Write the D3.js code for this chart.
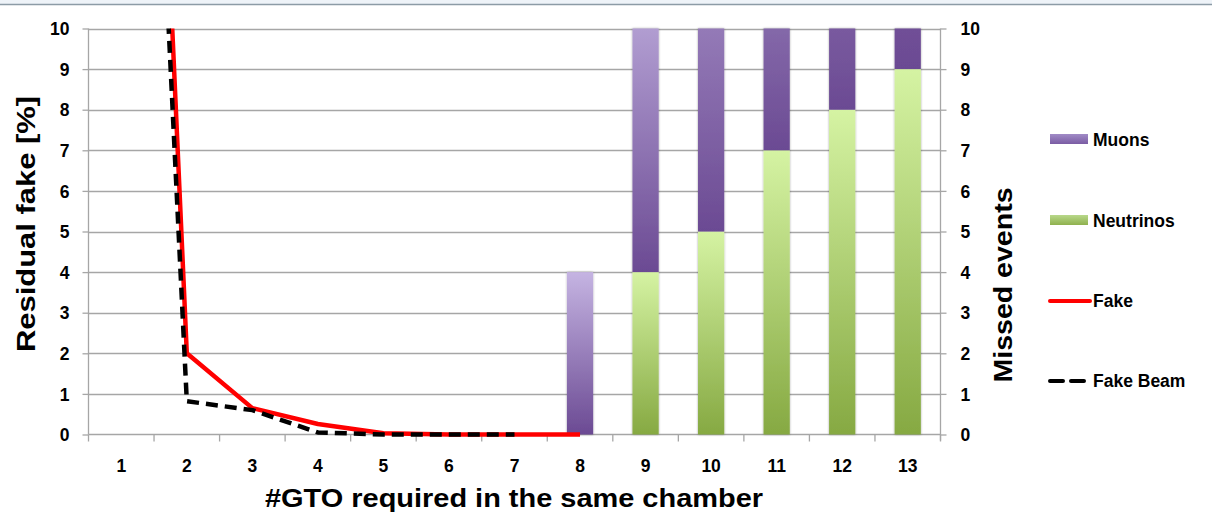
<!DOCTYPE html>
<html>
<head>
<meta charset="utf-8">
<script src="https://cdn.jsdelivr.net/npm/d3@7"></script>
<style>
  html, body { margin: 0; padding: 0; background: #fff; }
  svg { display: block; }
  text { font-family: "Liberation Sans", Arial, sans-serif; font-weight: bold; fill: #000; }
</style>
</head>
<body>
<svg id="chart" width="1212" height="517"></svg>
<script>
// Number of GTO hits required in the same chamber
const categories = ["1","2","3","4","5","6","7","8","9","10","11","12","13"];

// Residual fake rate [%] (left axis); first point lies far above the axis range
const fakeCats = ["1","2","3","4","5","6","7","8"];
const fakeValues = [38, 2.0, 0.65, 0.26, 0.03, 0, 0, 0];
const fakeBeamCats = ["1","2","3","4","5","6","7"];
const fakeBeamValues = [34, 0.82, 0.6, 0.05, 0, 0, 0];

// Missed events (right axis), stacked: neutrinos at the bottom, muons on top
const neutrinoValues = [0,0,0,0,0,0,0,0,4,5,7,8,9];
const muonValues     = [0,0,0,0,0,0,0,4,6,5,3,2,1];

const leftTicks  = [0,1,2,3,4,5,6,7,8,9,10];
const rightTicks = [0,1,2,3,4,5,6,7,8,9,10];

// Top-of-bar lightness of the muon gradient, per category
const muonTopMix = [0,0,0,0,0,0,0,1.0,0.78,0.45,0.28,0.15,0.05];

const svg = d3.select("#chart");
const W = 1212, H = 517;
const plot = { left: 88.5, right: 940.5, top: 28.5, bottom: 434.5 };

// Slide header strip
svg.append("rect").attr("x", 0).attr("y", 0).attr("width", W).attr("height", 4).attr("fill", "#eef3f8");
svg.append("line").attr("x1", 0).attr("x2", W).attr("y1", 4.5).attr("y2", 4.5)
  .attr("stroke", "#8c9ba6").attr("stroke-width", 1.5);

const x = d3.scaleBand().domain(categories).range([plot.left, plot.right])
  .paddingInner(0.6).paddingOuter(0.3);
const xStep = x.step();
const xc = c => x(c) + x.bandwidth() / 2;
const yL = d3.scaleLinear().domain([0, 10]).range([plot.bottom, plot.top]);
const yR = d3.scaleLinear().domain([0, 10]).range([plot.bottom, plot.top]);

const defs = svg.append("defs");
defs.append("clipPath").attr("id", "plotClip").append("rect")
  .attr("x", plot.left - 2).attr("y", plot.top).attr("width", plot.right - plot.left + 4)
  .attr("height", plot.bottom - plot.top + 6);
const shadow = defs.append("filter").attr("id", "barShadow")
  .attr("x", "-20%").attr("y", "-5%").attr("width", "140%").attr("height", "110%");
shadow.append("feDropShadow").attr("dx", 0).attr("dy", 0).attr("stdDeviation", 1)
  .attr("flood-color", "#000").attr("flood-opacity", 0.35);

// Horizontal gridlines
svg.append("g").selectAll("line").data(leftTicks.filter(t => t > 0)).join("line")
  .attr("x1", plot.left).attr("x2", plot.right)
  .attr("y1", d => Math.round(yL(d)) + 0.5).attr("y2", d => Math.round(yL(d)) + 0.5)
  .attr("stroke", "#a6a6a6").attr("stroke-width", 1.3);

// Left axis
const leftAxis = d3.axisLeft(yL).tickValues(leftTicks).tickSize(6).tickPadding(13).tickFormat(d3.format("d"));
const gL = svg.append("g").attr("transform", `translate(${plot.left},0)`).call(leftAxis);
gL.select(".domain").attr("stroke", "#a6a6a6").attr("stroke-width", 1.3).attr("d", `M0,${plot.top}V${plot.bottom}`);
gL.selectAll(".tick line").attr("stroke", "#a6a6a6").attr("stroke-width", 1.3);
gL.selectAll(".tick text").attr("font-size", 17.5).attr("font-family", null).attr("fill", "#000").attr("dy", "0.35em");

// Right axis
const rightAxis = d3.axisRight(yR).tickValues(rightTicks).tickSize(6).tickPadding(14).tickFormat(d3.format("d"));
const gR = svg.append("g").attr("transform", `translate(${plot.right},0)`).call(rightAxis);
gR.select(".domain").attr("stroke", "#a6a6a6").attr("stroke-width", 1.3).attr("d", `M0,${plot.top}V${plot.bottom + 6}`);
gR.selectAll(".tick line").attr("stroke", "#a6a6a6").attr("stroke-width", 1.3);
gR.selectAll(".tick text").attr("font-size", 17.5).attr("font-family", null).attr("fill", "#000").attr("dy", "0.35em");

// Category axis: ticks sit on the category boundaries
const boundaries = d3.range(categories.length + 1).map(i => plot.left + i * xStep);
const gX = svg.append("g");
gX.append("line").attr("x1", plot.left).attr("x2", plot.right).attr("y1", plot.bottom).attr("y2", plot.bottom)
  .attr("stroke", "#a6a6a6").attr("stroke-width", 1.5);
gX.selectAll("line.tick").data(boundaries).join("line").attr("class", "tick")
  .attr("x1", d => d).attr("x2", d => d).attr("y1", plot.bottom).attr("y2", plot.bottom + 7)
  .attr("stroke", "#a6a6a6").attr("stroke-width", 1.3);
gX.selectAll("text").data(categories).join("text")
  .attr("x", d => xc(d)).attr("y", 472).attr("text-anchor", "middle").attr("font-size", 17.5)
  .text(d => d);

// Stacked bars
const muonLight = "#c5b4e2", muonDark = "#6b4a93";
const nuLight = "#d5f3a3", nuDark = "#86a942";
const stack = categories.map((c, i) => ({ c, i, nu: neutrinoValues[i], mu: muonValues[i] }));

const nuGrad = defs.append("linearGradient").attr("id", "nuGrad").attr("x1", 0).attr("y1", 0).attr("x2", 0).attr("y2", 1);
nuGrad.append("stop").attr("offset", "0%").attr("stop-color", nuLight);
nuGrad.append("stop").attr("offset", "100%").attr("stop-color", nuDark);

stack.forEach(d => {
  const g = defs.append("linearGradient").attr("id", "muGrad" + d.i).attr("x1", 0).attr("y1", 0).attr("x2", 0).attr("y2", 1);
  g.append("stop").attr("offset", "0%").attr("stop-color", d3.interpolateRgb(muonDark, muonLight)(muonTopMix[d.i]));
  g.append("stop").attr("offset", "100%").attr("stop-color", muonDark);
});

const bars = svg.append("g").attr("filter", "url(#barShadow)");
bars.selectAll("rect.nu").data(stack.filter(d => d.nu > 0)).join("rect").attr("class", "nu")
  .attr("x", d => x(d.c)).attr("width", x.bandwidth())
  .attr("y", d => yR(d.nu)).attr("height", d => yR(0) - yR(d.nu))
  .attr("fill", "url(#nuGrad)");
bars.selectAll("rect.mu").data(stack.filter(d => d.mu > 0)).join("rect").attr("class", "mu")
  .attr("x", d => x(d.c)).attr("width", x.bandwidth())
  .attr("y", d => yR(d.nu + d.mu)).attr("height", d => yR(d.nu) - yR(d.nu + d.mu))
  .attr("fill", d => `url(#muGrad${d.i})`);

// Fake-rate lines
const lineGen = d3.line().x(d => xc(d[0])).y(d => yL(d[1]));
const lines = svg.append("g").attr("clip-path", "url(#plotClip)");
lines.append("path").datum(fakeCats.map((c, i) => [c, fakeValues[i]]))
  .attr("d", lineGen).attr("fill", "none").attr("stroke", "#ff0000").attr("stroke-width", 4.5)
  .attr("stroke-linejoin", "round");
lines.append("path").datum(fakeBeamCats.map((c, i) => [c, fakeBeamValues[i]]))
  .attr("d", lineGen).attr("fill", "none").attr("stroke", "#000").attr("stroke-width", 4.5)
  .attr("stroke-dasharray", "12,7").attr("stroke-linejoin", "round");

// Axis titles
svg.append("text").attr("x", 514).attr("y", 507).attr("text-anchor", "middle")
  .attr("font-size", 26).attr("textLength", 498).attr("lengthAdjust", "spacingAndGlyphs")
  .text("#GTO required in the same chamber");
svg.append("text").attr("transform", "translate(35,224) rotate(-90)").attr("text-anchor", "middle")
  .attr("font-size", 26).attr("textLength", 256).attr("lengthAdjust", "spacingAndGlyphs")
  .text("Residual fake [%]");
svg.append("text").attr("transform", "translate(1012,285) rotate(-90)").attr("text-anchor", "middle")
  .attr("font-size", 26).attr("textLength", 195).attr("lengthAdjust", "spacingAndGlyphs")
  .text("Missed events");

// Legend
const legendItems = [
  { label: "Muons", type: "bar", fill: "url(#legMu)", y: 140 },
  { label: "Neutrinos", type: "bar", fill: "url(#legNu)", y: 221 },
  { label: "Fake", type: "line", stroke: "#ff0000", dash: null, y: 301 },
  { label: "Fake Beam", type: "line", stroke: "#000", dash: "13,8", y: 381 }
];
const legMu = defs.append("linearGradient").attr("id", "legMu").attr("x1", 0).attr("y1", 0).attr("x2", 0).attr("y2", 1);
legMu.append("stop").attr("offset", "0%").attr("stop-color", "#a18bc6");
legMu.append("stop").attr("offset", "100%").attr("stop-color", "#7a5ca3");
const legNu = defs.append("linearGradient").attr("id", "legNu").attr("x1", 0).attr("y1", 0).attr("x2", 0).attr("y2", 1);
legNu.append("stop").attr("offset", "0%").attr("stop-color", "#b8d88a");
legNu.append("stop").attr("offset", "100%").attr("stop-color", "#8fb14e");

const leg = svg.append("g");
legendItems.forEach(it => {
  if (it.type === "bar") {
    leg.append("rect").attr("x", 1050).attr("y", it.y - 6).attr("width", 38).attr("height", 10).attr("fill", it.fill);
  } else {
    leg.append("line").attr("x1", 1050).attr("x2", 1090).attr("y1", it.y).attr("y2", it.y)
      .attr("stroke", it.stroke).attr("stroke-width", 4).attr("stroke-linecap", "round")
      .attr("stroke-dasharray", it.dash);
  }
  leg.append("text").attr("x", 1093).attr("y", it.y).attr("dy", "0.35em").attr("font-size", 17.5).text(it.label);
});
</script>
</body>
</html>
